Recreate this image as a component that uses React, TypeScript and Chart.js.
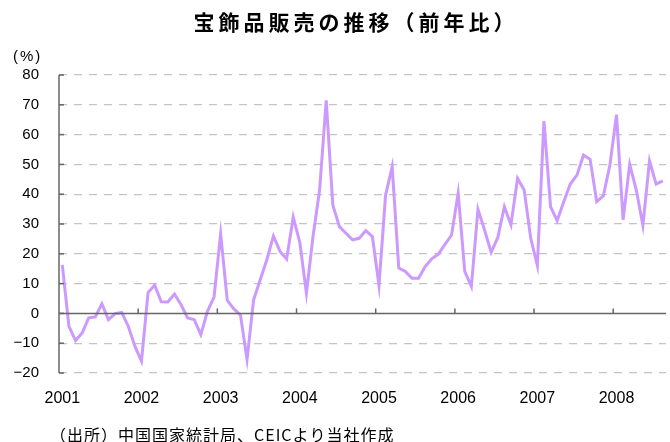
import React, { useEffect, useRef } from "react";
import { Chart, registerables } from "chart.js";

Chart.register(...registerables);

const TITLE = "宝飾品販売の推移（前年比）";
const UNIT = "(%)";
const SOURCE = "（出所）中国国家統計局、CEICより当社作成";

const START_YEAR = 2001;
const YEARS = ["2001", "2002", "2003", "2004", "2005", "2006", "2007", "2008"];

const y2001 = [16.3, -4.3, -9.1, -6.6, -1.5, -1.2, 3.2, -2.1, -0.1, 0.3, -4.3, -11.0];
const y2002 = [-16.0, 7.0, 9.5, 3.9, 3.8, 6.5, 2.9, -1.5, -2.1, -7.1, 0.7, 5.5];
const y2003 = [26.7, 4.4, 1.5, -0.5, -15.5, 4.6, 11.3, 18.0, 26.0, 20.8, 18.2, 32.3];
const y2004 = [23.8, 6.8, 25.8, 41.4, 71.5, 36.4, 29.1, 26.9, 24.7, 25.2, 27.8, 25.8];
const y2005 = [9.4, 39.7, 49.2, 15.2, 14.1, 11.8, 11.8, 15.7, 18.3, 19.9, 23.2, 26.3];
const y2006 = [40.3, 14.1, 9.0, 34.9, 28.0, 20.5, 25.4, 35.8, 29.7, 45.3, 41.4, 25.2];
const y2007 = [16.1, 64.5, 35.8, 31.1, 37.5, 43.4, 46.4, 53.1, 51.7, 37.5, 39.4, 49.8];
const y2008 = [66.7, 31.4, 50.0, 41.4, 29.5, 51.2, 43.4, 44.5];

const VALUES = [...y2001, ...y2002, ...y2003, ...y2004, ...y2005, ...y2006, ...y2007, ...y2008];

const Y_MIN = -20;
const Y_MAX = 80;
const Y_STEP = 10;

const MONTHS: string[] = VALUES.map((_, i) => {
  const y = START_YEAR + Math.floor(i / 12);
  const m = (i % 12) + 1;
  return `${y}/${m < 10 ? "0" + m : m}`;
});

const LINE_COLOR = "#cc99ff";
const AXIS_COLOR = "#666666";
const GRID_COLOR = "#c4c4c4";

const decorPlugin = {
  id: "decor",
  afterDatasetsDraw(chart: any) {
    const { ctx, chartArea, scales } = chart;
    const xs = scales.x;
    const ys = scales.y;
    ctx.save();
    const y0 = ys.getPixelForValue(0);
    ctx.strokeStyle = AXIS_COLOR;
    ctx.lineWidth = 1.5;
    ctx.beginPath();
    ctx.moveTo(chartArea.left, y0);
    ctx.lineTo(chartArea.right, y0);
    ctx.stroke();
    for (let i = 12; i < MONTHS.length; i += 12) {
      const x = (xs.getPixelForValue(i - 1) + xs.getPixelForValue(i)) / 2;
      ctx.beginPath();
      ctx.moveTo(x, y0);
      ctx.lineTo(x, y0 - 5);
      ctx.stroke();
    }
    ctx.beginPath();
    ctx.moveTo(chartArea.left, chartArea.top);
    ctx.lineTo(chartArea.left, chartArea.bottom);
    ctx.stroke();
    for (let v = Y_MIN; v <= Y_MAX; v += Y_STEP) {
      const y = ys.getPixelForValue(v);
      ctx.beginPath();
      ctx.moveTo(chartArea.left, y);
      ctx.lineTo(chartArea.left + 5, y);
      ctx.stroke();
    }
    ctx.restore();
  },
  afterDraw(chart: any) {
    const { ctx } = chart;
    ctx.save();
    ctx.fillStyle = "#000000";
    ctx.textBaseline = "middle";
    ctx.textAlign = "left";
    ctx.font = "bold 21px 'Noto Sans CJK JP'";
    (ctx as any).letterSpacing = "4px";
    const tw = ctx.measureText(TITLE).width - 4;
    ctx.fillText(TITLE, 354 - tw / 2, 22);
    ctx.font = "15px 'Liberation Sans'";
    (ctx as any).letterSpacing = "2px";
    ctx.fillText(UNIT, 13, 57);
    ctx.font = "16px 'Noto Sans CJK JP'";
    (ctx as any).letterSpacing = "1px";
    ctx.fillText(SOURCE, 50, 435);
    ctx.restore();
  },
};

export default function App() {
  const ref = useRef<HTMLCanvasElement | null>(null);
  useEffect(() => {
    document.body.style.margin = "0";
    if (!ref.current) return;
    const chart = new Chart(ref.current, {
      type: "line",
      data: {
        labels: MONTHS,
        datasets: [
          {
            data: VALUES,
            borderColor: LINE_COLOR,
            borderWidth: 3,
            pointRadius: 0,
            tension: 0,
            fill: false,
          },
        ],
      },
      options: {
        responsive: false,
        animation: false,
        layout: { padding: { top: 75, right: 4, left: 0, bottom: 0 } },
        plugins: {
          legend: { display: false },
          tooltip: { enabled: false },
          title: { display: false },
        },
        scales: {
          x: {
            type: "category",
            offset: true,
            grid: { display: false, drawTicks: true, tickLength: 9 },
            border: { display: false },
            afterFit: (s: any) => {
              s.height = 69;
            },
            ticks: {
              autoSkip: false,
              maxRotation: 0,
              minRotation: 0,
              padding: 7,
              color: "#000000",
              font: { family: "'Liberation Sans'", size: 16 },
              callback: (_v: any, i: number) => (i % 12 === 0 ? YEARS[i / 12] : ""),
            },
          },
          y: {
            min: Y_MIN,
            max: Y_MAX,
            afterFit: (s: any) => {
              s.width = 59;
            },
            grid: {
              drawTicks: false,
              lineWidth: 1.3,
              color: (c: any) => (c.tick && c.tick.value === 0 ? "rgba(0,0,0,0)" : GRID_COLOR),
            },
            border: { display: false, dash: [8, 7] },
            ticks: {
              stepSize: Y_STEP,
              padding: 20,
              color: "#000000",
              font: { family: "'Liberation Sans'", size: 15 },
              callback: (v: any) => (v < 0 ? "\u2212" + Math.abs(v) : String(v)),
            },
          },
        },
      },
      plugins: [decorPlugin],
    });
    return () => chart.destroy();
  }, []);
  return (
    <div style={{ width: 670, height: 442 }}>
      <canvas ref={ref} width={670} height={442} />
    </div>
  );
}
